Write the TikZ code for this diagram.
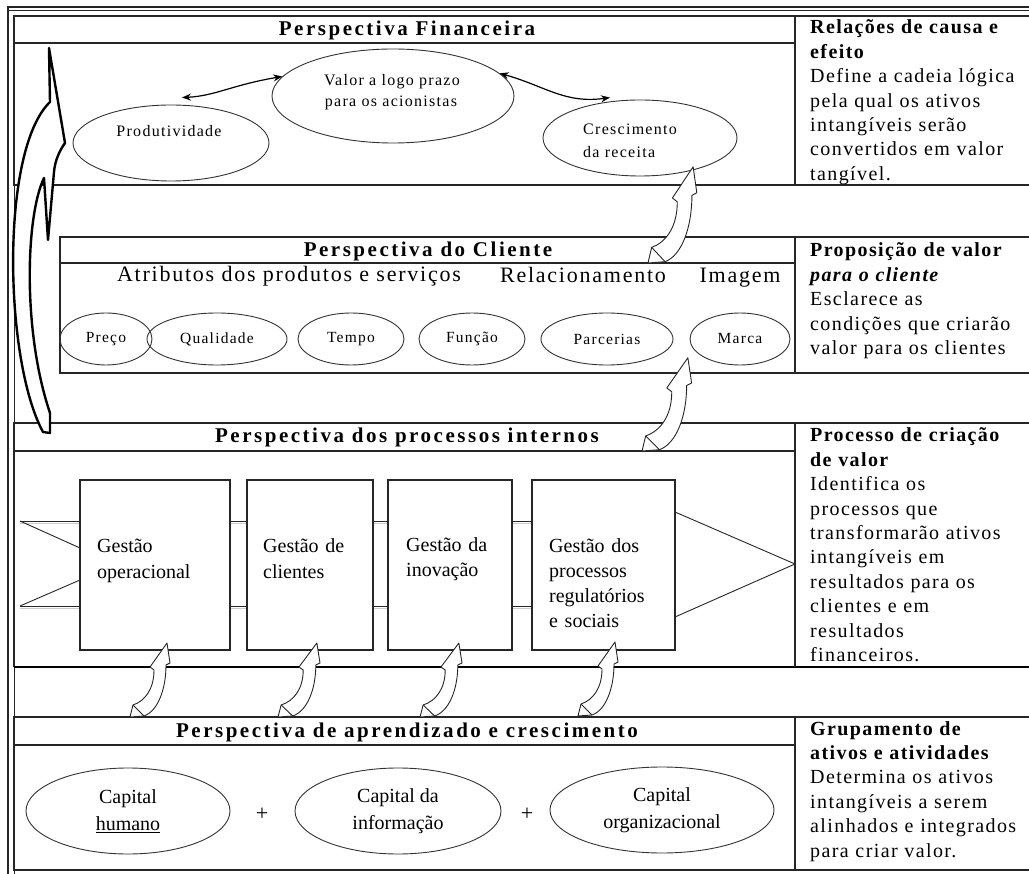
\documentclass[tikz,border=0pt]{standalone}
\usepackage{fontspec}
\setmainfont{Liberation Serif}
\newfontfamily\tfam[LetterSpace=12]{Liberation Serif}
\newfontfamily\rfam[LetterSpace=7]{Liberation Serif}
\newfontfamily\sfam[LetterSpace=8]{Liberation Serif}
\usetikzlibrary{arrows.meta,shapes.geometric}
\newcommand\curvarr[4]{%
  \begin{scope}[shift={(#1,#2)}, xscale=#3, yscale=#4]
    \draw[carrow] (0,0) -- (3,-12) .. controls (15,-16) and (24,-28) .. (24,-47)
      -- (20,-50) -- (37,-74) -- (40,-54) -- (36,-52)
      .. controls (36,-28) and (28,-6) .. (14,-1) -- cycle;
    \draw[carrow, fill=none] (3,-12) -- (14,-1);
  \end{scope}}
\begin{document}
\begin{tikzpicture}[x=1pt,y=-1pt,
  frame/.style={draw=black!85, line width=1.3pt},
  thin/.style={draw=black!85, line width=0.9pt},
  ell/.style={ellipse, draw=black!80, line width=0.9pt, inner sep=0pt, align=center},
  cell/.style={ell, minimum height=52pt, font=\sfam\fontsize{15.5}{18}\selectfont},
  pbox/.style={rectangle, draw=black!85, line width=1.1pt, inner sep=0pt, fill=white},
  band/.style={draw=black!85, line width=0.9pt},
  shadow/.style={draw=black!20, line width=1.5pt},
  ttl/.style={inner sep=0pt, anchor=base, font=\tfam\bfseries\fontsize{21}{24}\selectfont},
  rtxt/.style={inner sep=0pt, anchor=base west, align=left, text width=225pt, font=\rfam\fontsize{20}{24.4}\selectfont},
  btxt/.style={inner sep=0pt, anchor=base west, align=left, text width=140pt, font=\fontsize{20}{25.5}\selectfont},
  etxt/.style={inner sep=0pt, anchor=base, align=center, font=\sfam\fontsize{16}{22}\selectfont},
  sub/.style={inner sep=0pt, anchor=base, font=\sfam\fontsize{22}{24}\selectfont},
  dbl/.style={{Stealth[length=9pt,width=7pt]}-{Stealth[length=9pt,width=7pt]}, line width=1.2pt},
  bigarrow/.style={draw=black, line width=2.4pt, fill=white, line join=round},
  carrow/.style={draw=black!85, line width=0.9pt, fill=white, line join=round},
]
\useasboundingbox (0,0) rectangle (1029,874);
\fill[white] (0,0) rectangle (1029,874);

% outer frame
\draw[frame] (8,874) -- (8,7) -- (1029,7);
\draw[thin] (8,10.5) -- (1029,10.5);
\draw[thin] (14,874) -- (14,16);

% ---------- Financial perspective
\draw[frame] (1029,16) -- (14,16) -- (14,185) -- (1029,185);
\draw[frame] (14,43) -- (795,43);
\draw[frame] (795,16) -- (795,185);
\node[ttl] (tfin) at (407,36) {Perspectiva Financeira};

\node[ell, minimum width=196pt, minimum height=76pt] (prod) at (171,143) {};
\node[ell, minimum width=242pt, minimum height=94pt] (valor) at (393,96) {};
\node[ell, minimum width=194pt, minimum height=76pt] (cresc) at (640,138) {};
\node[etxt] (tprod) at (169,137) {Produtividade};
\node[etxt] (tval) at (392,86) {Valor a logo prazo};
\node[etxt] (tval2) at (391,107) {para os acionistas};
\node[etxt, anchor=base west] (tcr) at (583,135) {Crescimento};
\node[etxt, anchor=base west] (tcr2) at (583,158) {da receita};

\draw[dbl] ([xshift=11pt,yshift=7pt]prod.north) .. controls (215,96) and (232,85) .. (valor.170);
\draw[dbl] (valor.12) .. controls (545,86) and (565,104) .. ([xshift=-30pt,yshift=2pt]cresc.north);

\node[rtxt] (rfin) at (810,34) {\textbf{Relações de causa e}\\\textbf{efeito}\\Define a cadeia lógica\\pela qual os ativos\\intangíveis serão\\convertidos em valor\\tangível.};

% ---------- Customer perspective
\draw[frame] (1029,237) -- (60,237) -- (60,373) -- (1029,373);
\draw[frame] (60,263) -- (795,263);
\draw[frame] (795,237) -- (795,373);
\node[ttl] (tcli) at (428,257) {Perspectiva do Cliente};
\node[sub] (atr) at (289,282) {Atributos dos produtos e serviços};
\node[sub] (rel) at (583,283) {Relacionamento};
\node[sub] (img) at (740,283) {Imagem};

\node[cell, minimum width=92pt] (preco) at (106,339) {Preço};
\node[cell, minimum width=140pt] (qual) at (217,339) {Qualidade};
\node[cell, minimum width=106pt] (tempo) at (351,339) {Tempo};
\node[cell, minimum width=106pt] (func) at (472,339) {Função};
\node[cell, minimum width=132pt] (parc) at (607,339) {Parcerias};
\node[cell, minimum width=100pt] (marca) at (740,339) {Marca};

\node[rtxt] (rcli) at (810,257) {\textbf{Proposição de valor}\\\textbf{\textit{para o cliente}}\\Esclarece as\\condições que criarão\\valor para os clientes};

% ---------- Internal processes
\draw[frame] (1029,423) -- (14,423) -- (14,667);
\draw[draw=black, line width=2.6pt] (14,667) -- (1029,667);
\draw[frame] (14,451) -- (795,451);
\draw[frame] (795,423) -- (795,667);
\node[ttl] (tproc) at (407,443) {Perspectiva dos processos internos};

% band with tail and head
\foreach \y in {523.5,608.5} {
  \draw[shadow] (20,\y) -- (80,\y);
  \draw[shadow] (230,\y) -- (247,\y);
  \draw[shadow] (373,\y) -- (388,\y);
  \draw[shadow] (512,\y) -- (532,\y);
}
\draw[band] (20,521) -- (80,521);
\draw[band] (20,606) -- (80,606);
\draw[band] (20,521) -- (80,548);
\draw[band] (20,606) -- (80,580);
\foreach \a/\b in {230/247,373/388,512/532} {
  \draw[band] (\a,521) -- (\b,521);
  \draw[band] (\a,606) -- (\b,606);
}
\draw[band] (675,512) -- (795,564) -- (675,617);

\node[pbox, minimum width=150pt, minimum height=170pt] (b1) at (155,565) {};
\node[pbox, minimum width=126pt, minimum height=170pt] (b2) at (310,565) {};
\node[pbox, minimum width=124pt, minimum height=170pt] (b3) at (450,565) {};
\node[pbox, minimum width=143pt, minimum height=170pt] (b4) at (603.5,565) {};
\node[btxt] (t1) at (97,553) {Gestão\\operacional};
\node[btxt] (t2) at (263,553) {Gestão de\\clientes};
\node[btxt] (t3) at (406,551) {Gestão da\\inovação};
\node[btxt, font=\fontsize{20}{25}\selectfont] (t4) at (549,553) {Gestão dos\\processos\\regulatórios\\e sociais};

\node[rtxt] (rproc) at (810,442) {\textbf{Processo de criação}\\\textbf{de valor}\\Identifica os\\processos que\\transformarão ativos\\intangíveis em\\resultados para os\\clientes e em\\resultados\\financeiros.};

% ---------- Learning and growth
\draw[frame] (1029,717) -- (14,717) -- (14,870) -- (1029,870);
\draw[frame] (14,745) -- (795,745);
\draw[frame] (795,717) -- (795,870);
\node[ttl] (tapr) at (407,737) {Perspectiva de aprendizado e crescimento};

\node[ell, minimum width=204pt, minimum height=86pt, font=\fontsize{20}{27}\selectfont] (ch) at (128,811) {Capital\\\underline{humano}};
\node[ell, minimum width=206pt, minimum height=86pt, font=\fontsize{20}{27}\selectfont] (ci) at (398,811) {Capital da\\informação};
\node[ell, minimum width=224pt, minimum height=86pt, font=\fontsize{20}{27}\selectfont] (co) at (662,810) {Capital\\organizacional};
\node[inner sep=0pt, font=\fontsize{22}{24}\selectfont] (p1) at (262,814) {+};
\node[inner sep=0pt, font=\fontsize{22}{24}\selectfont] (p2) at (527,814) {+};

\node[rtxt] (rapr) at (810,735) {\textbf{Grupamento de}\\\textbf{ativos e atividades}\\Determina os ativos\\intangíveis a serem\\alinhados e integrados\\para criar valor.};

% ---------- big left curved arrow
\draw[bigarrow] (49,48) -- (65,143) .. controls (60,150) and (55,160) .. (54,172)
  -- (48,240) -- (44,178) .. controls (26,215) and (22,330) .. (50,413)
  -- (50,433) -- (43,432) .. controls (4,360) and (0,150) .. (50,102) -- cycle;

% ---------- small curved arrows
\curvarr{648}{263}{1.22}{1.3}
\curvarr{642}{451}{1.24}{1.26}
\curvarr{130}{717}{1}{1}
\curvarr{278}{717}{1.05}{1}
\curvarr{420}{717}{1.05}{1}
\curvarr{578}{716}{1}{1}
\end{tikzpicture}
\end{document}
